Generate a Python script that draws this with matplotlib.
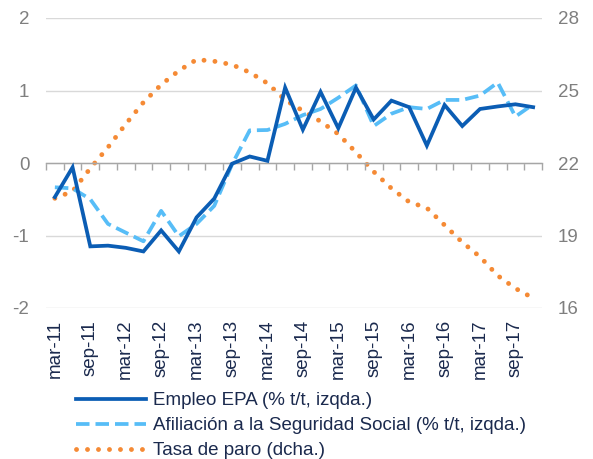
import matplotlib
matplotlib.use("Agg")
import matplotlib.pyplot as plt
import numpy as np

plt.rcParams['font.family'] = ['Liberation Sans', 'DejaVu Sans']
plt.rcParams['axes.unicode_minus'] = False

categories = [f"{m}-{y}" for y in range(11, 18) for m in ("mar", "jun", "sep", "dic")]
empleo_epa = [-0.47, -0.06, -1.15, -1.14, -1.17, -1.22, -0.93, -1.22, -0.75, -0.49,
              -0.01, 0.09, 0.03, 1.04, 0.46, 0.98, 0.48, 1.04, 0.60, 0.86,
              0.77, 0.24, 0.80, 0.51, 0.745, 0.78, 0.81, 0.77]
afiliacion = [-0.335, -0.35, -0.50, -0.84, -0.96, -1.08, -0.66, -1.01, -0.84, -0.59,
              -0.02, 0.45, 0.455, 0.54, 0.66, 0.745, 0.90, 1.07, 0.51, 0.68,
              0.77, 0.745, 0.87, 0.87, 0.93, 1.11, 0.64, 0.81]
tasa_paro = [20.54, 20.83, 21.78, 22.65, 23.61, 24.51, 25.24, 25.82, 26.28, 26.21,
             26.07, 25.75, 25.30, 24.61, 24.16, 23.72, 23.20, 22.44, 21.64, 20.95,
             20.39, 20.14, 19.43, 18.72, 18.12, 17.34, 16.81, 16.41]
left_ticks = [-2, -1, 0, 1, 2]
right_ticks = [16, 19, 22, 25, 28]
labels = ["Empleo EPA (% t/t, izqda.)",
          "Afiliación a la Seguridad Social (% t/t, izqda.)",
          "Tasa de paro (dcha.)"]

c_dark = "#0B5DB4"
c_light = "#57BDF7"
c_orange = "#F58A35"
c_gray = "#7F7F7F"
c_navy = "#1B2A4E"
fs = 13.5

W, H = 593, 459
fig = plt.figure(figsize=(W / 100, H / 100), dpi=100)
ax = fig.add_axes([46 / W, 1 - 308 / H, (542 - 46) / W, 290 / H])
ax2 = ax.twinx()

x = np.arange(len(categories))
l1, = ax.plot(x, empleo_epa, color=c_dark, lw=2.7, solid_joinstyle='miter', zorder=4)
l2, = ax.plot(x, afiliacion, color=c_light, lw=2.7, dashes=(3.6, 1.6),
              dash_capstyle='butt', zorder=3)
l3, = ax2.plot(x, tasa_paro, color=c_orange, lw=3.5, linestyle=(0, (0.01, 2.25)),
               dash_capstyle='round', zorder=2)

ax.set_xlim(-0.5, len(categories) - 0.5)
ax.set_ylim(left_ticks[0], left_ticks[-1])
ax2.set_ylim(right_ticks[0], right_ticks[-1])
ax.set_yticks(left_ticks)
ax2.set_yticks(right_ticks)

for a in (ax, ax2):
    for s in a.spines.values():
        s.set_visible(False)
ax.tick_params(axis='y', length=0, labelsize=fs, labelcolor=c_gray, pad=12)
ax2.tick_params(axis='y', length=0, labelsize=fs, labelcolor=c_gray, pad=11.5)
ax.grid(axis='y', color="#D9D9D9", lw=1.0)
ax.set_axisbelow(True)

# category axis line at zero with boundary tick marks
ax.spines['bottom'].set_visible(True)
ax.spines['bottom'].set_position(('data', 0))
ax.spines['bottom'].set_color("#A6A6A6")
ax.spines['bottom'].set_linewidth(1.0)
ax.set_xticks(np.arange(-0.5, len(categories), 1.0))
ax.tick_params(axis='x', length=5, width=1.0, color="#A6A6A6", labelbottom=False)

sec = ax.secondary_xaxis(0.0)
sec.set_xticks(x[::2])
sec.set_xticklabels(categories[::2], rotation=90, fontsize=fs, color=c_navy)
sec.tick_params(length=0, pad=8.5)
sec.spines['bottom'].set_visible(False)

ax2.set_zorder(ax.get_zorder() - 1)
ax.patch.set_visible(False)
ax2.patch.set_visible(False)

fig.legend([l1, l2, l3], labels, loc='upper left', bbox_to_anchor=(76 / W, 1 - 392 / H),
           frameon=False, fontsize=fs, handlelength=3.75, handletextpad=0.35,
           labelspacing=0.42, labelcolor=c_navy, borderpad=0, borderaxespad=0)

fig.savefig("out.png", dpi=100)
